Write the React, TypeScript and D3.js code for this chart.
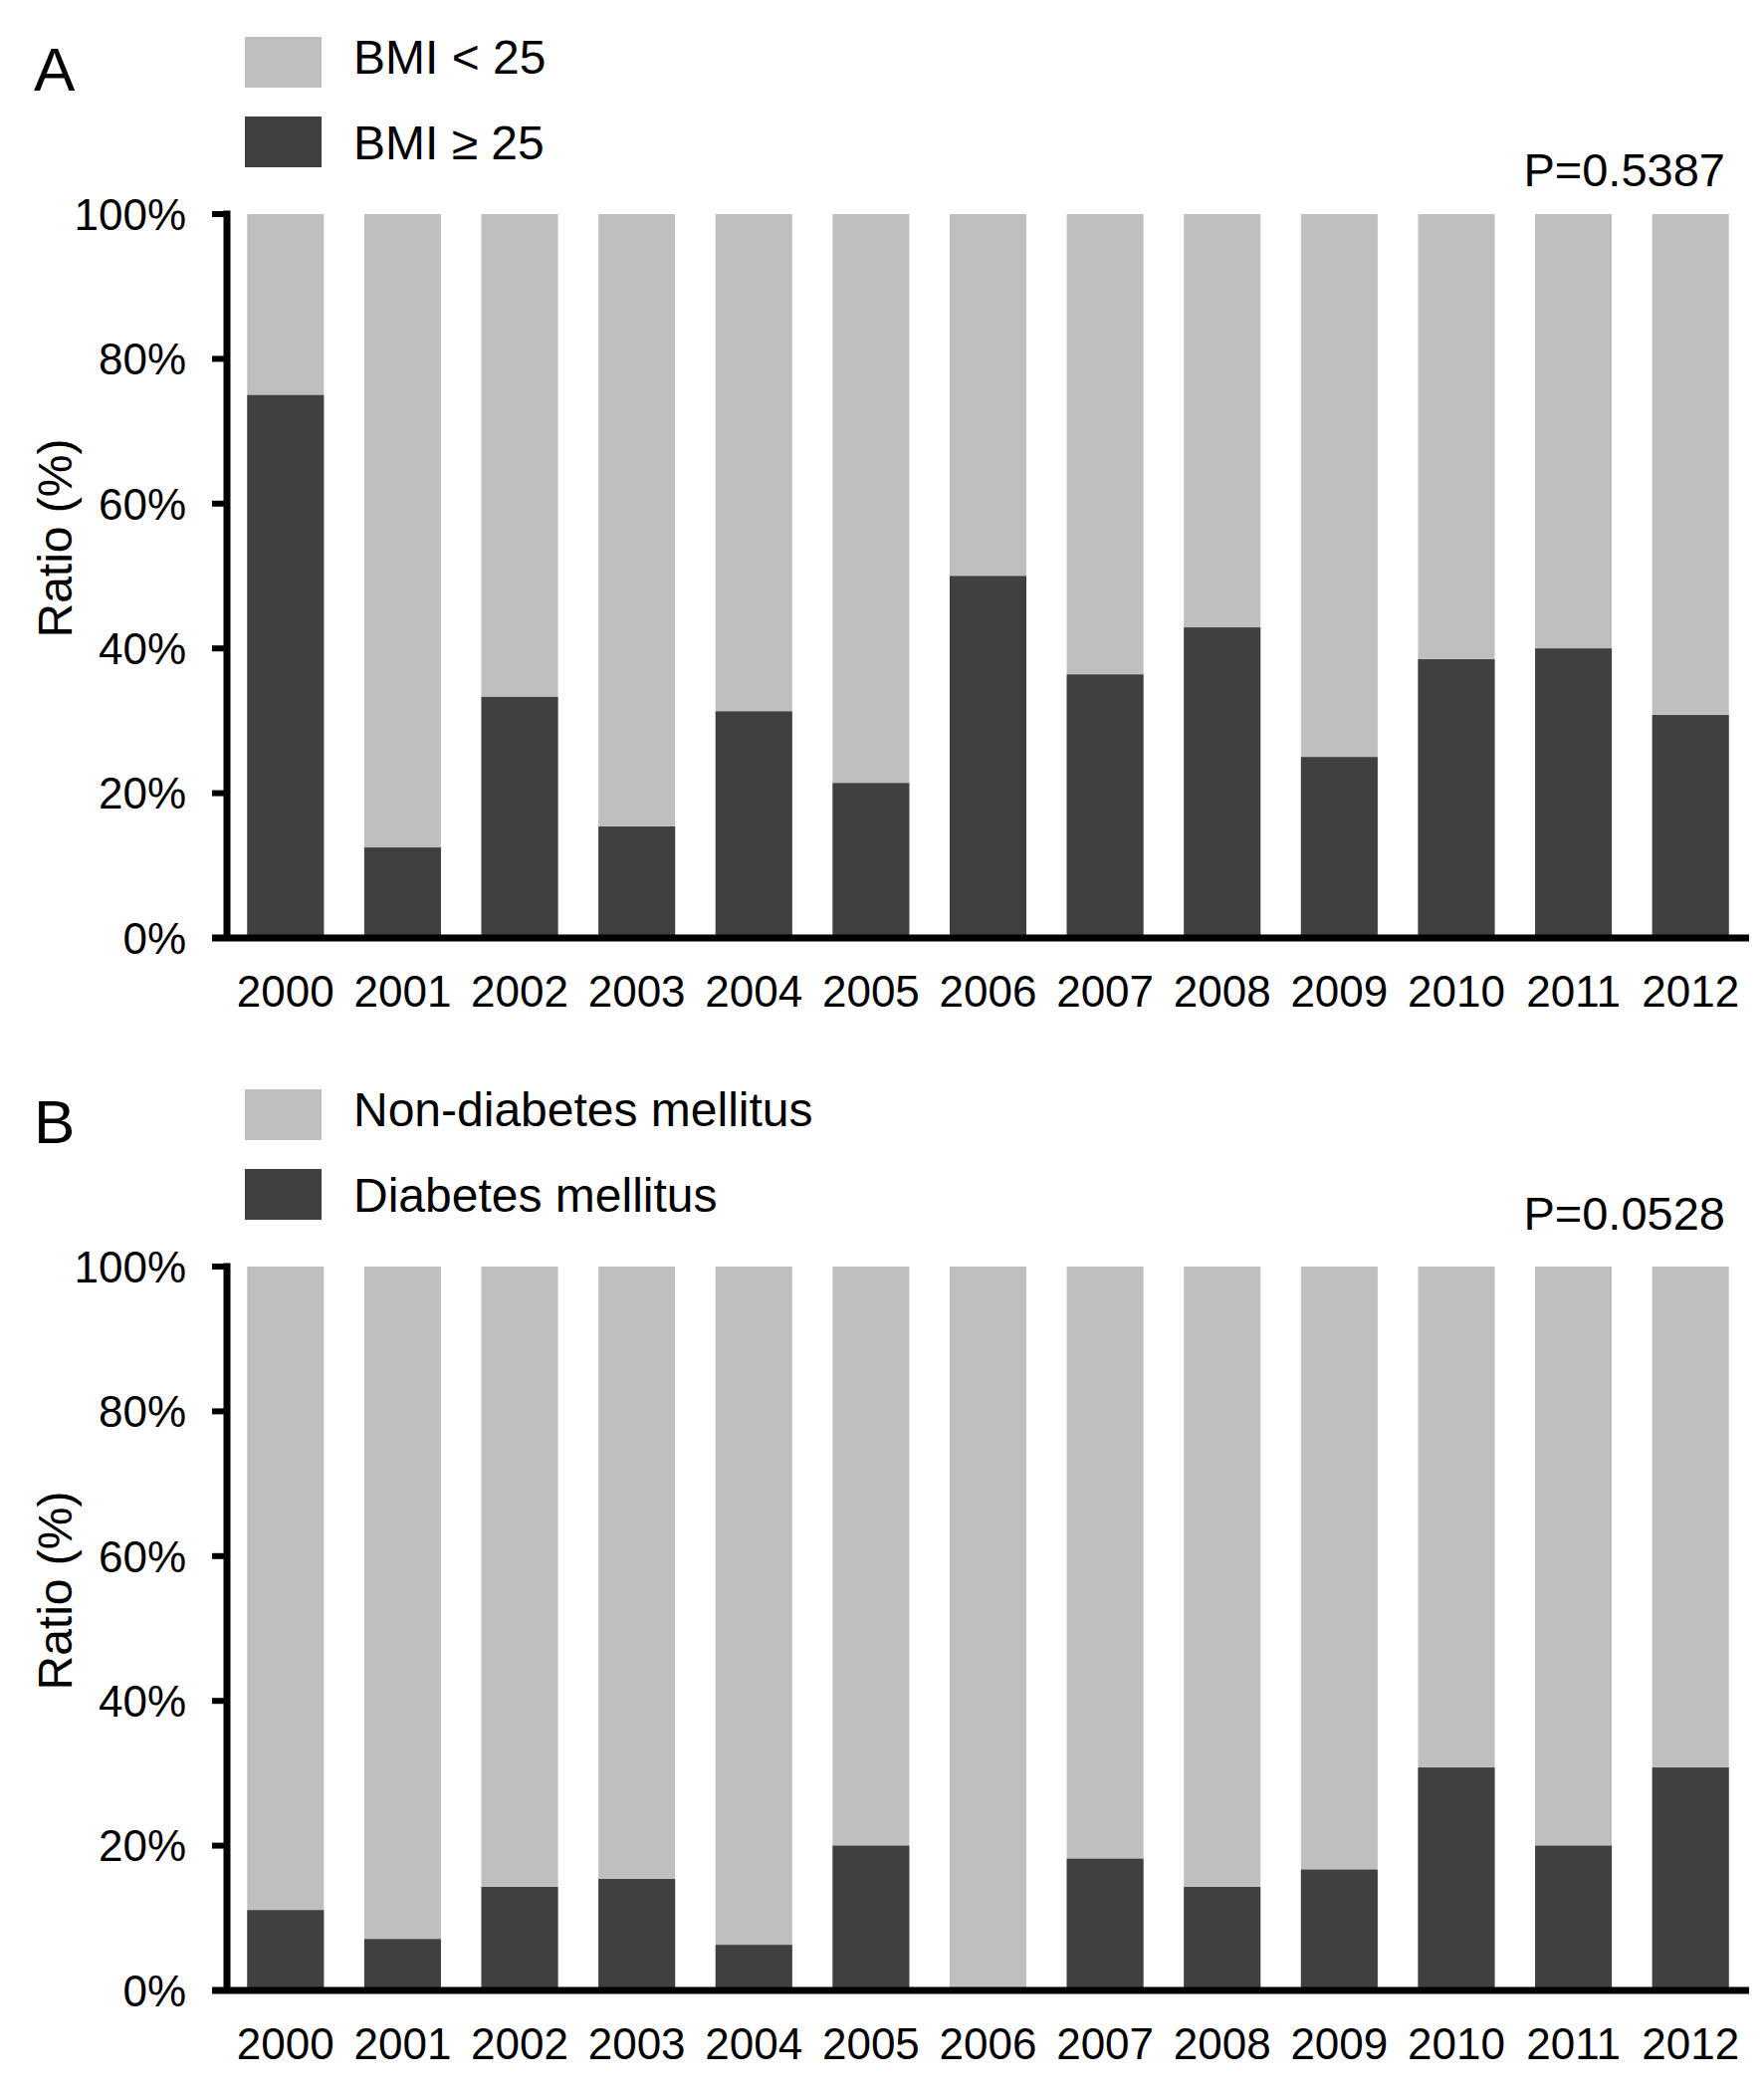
import { useEffect } from "react";
import * as d3 from "d3";

const years = ["2000", "2001", "2002", "2003", "2004", "2005", "2006", "2007", "2008", "2009", "2010", "2011", "2012"];

// % of patients with BMI >= 25 (rest is BMI < 25)
const bmiHigh = [75, 12.5, 33.3, 15.4, 31.3, 21.4, 50, 36.4, 42.9, 25, 38.5, 40, 30.8];
// % of patients with diabetes mellitus
const diabetes = [11.1, 7.1, 14.3, 15.4, 6.3, 20, 0, 18.2, 14.3, 16.7, 30.8, 20, 30.8];

const yTicks = [0, 20, 40, 60, 80, 100];

const panels = [
  { letter: "A", legend: ["BMI < 25", "BMI \u2265 25"], values: bmiHigh, p: "P=0.5387", pY: 187 },
  { letter: "B", legend: ["Non-diabetes mellitus", "Diabetes mellitus"], values: diabetes, p: "P=0.0528", pY: 178 },
];

const LIGHT = "#bfbfbf";
const DARK = "#404040";
const FONT = "'Liberation Sans', Arial, sans-serif";

const W = 1772;
const H = 2102;

const Panel = ({ panel, offset }) => {
  const x = d3
    .scaleBand()
    .domain(years)
    .range([228, 1757])
    .paddingInner(0.345)
    .paddingOuter(0.1725);

  const y = d3.scaleLinear().domain([0, 100]).range([942, 215]);

  const axisX = 228;
  const tickLen = 15;

  return (
    <g transform={`translate(0,${offset})`} fontFamily={FONT}>
      {/* panel letter */}
      <text x={34} y={91} fontSize={62}>{panel.letter}</text>

      {/* legend */}
      <rect x={246} y={37} width={77} height={51} fill={LIGHT} />
      <rect x={246} y={117} width={77} height={51} fill={DARK} />
      <text x={355} y={74} fontSize={48}>{panel.legend[0]}</text>
      <text x={355} y={160} fontSize={48}>{panel.legend[1]}</text>

      <text x={1733} y={panel.pY} fontSize={47} textAnchor="end">{panel.p}</text>

      {/* bars */}
      {years.map((yr, i) => (
        <g key={yr}>
          <rect x={x(yr)} y={y(100)} width={x.bandwidth()} height={y(0) - y(100)} fill={LIGHT} />
          <rect
            x={x(yr)}
            y={y(panel.values[i])}
            width={x.bandwidth()}
            height={y(0) - y(panel.values[i])}
            fill={DARK}
          />
          <text x={x(yr) + x.bandwidth() / 2} y={1011} fontSize={44} textAnchor="middle">
            {yr}
          </text>
        </g>
      ))}

      {/* y axis */}
      <line x1={axisX} x2={axisX} y1={y(100) - 3.5} y2={y(0)} stroke="#000" strokeWidth={7} />
      {yTicks.map((t) => (
        <g key={t}>
          <line x1={axisX - tickLen} x2={axisX} y1={y(t)} y2={y(t)} stroke="#000" strokeWidth={6} />
          <text x={187} y={y(t)} dy="0.36em" fontSize={44} textAnchor="end">
            {t}%
          </text>
        </g>
      ))}
      {/* x axis */}
      <line x1={axisX - tickLen} x2={1757} y1={y(0)} y2={y(0)} stroke="#000" strokeWidth={7} />

      <text
        transform={`translate(72,${(y(0) + y(100)) / 2 - 38}) rotate(-90)`}
        fontSize={48}
        textAnchor="middle"
      >
        Ratio (%)
      </text>
    </g>
  );
};

export default function App() {
  useEffect(() => {
    document.body.style.margin = "0";
  }, []);

  return (
    <svg width={W} height={H} style={{ display: "block", background: "#fff" }}>
      <rect width={W} height={H} fill="#fff" />
      <Panel panel={panels[0]} offset={0} />
      <Panel panel={panels[1]} offset={1057} />
    </svg>
  );
}
